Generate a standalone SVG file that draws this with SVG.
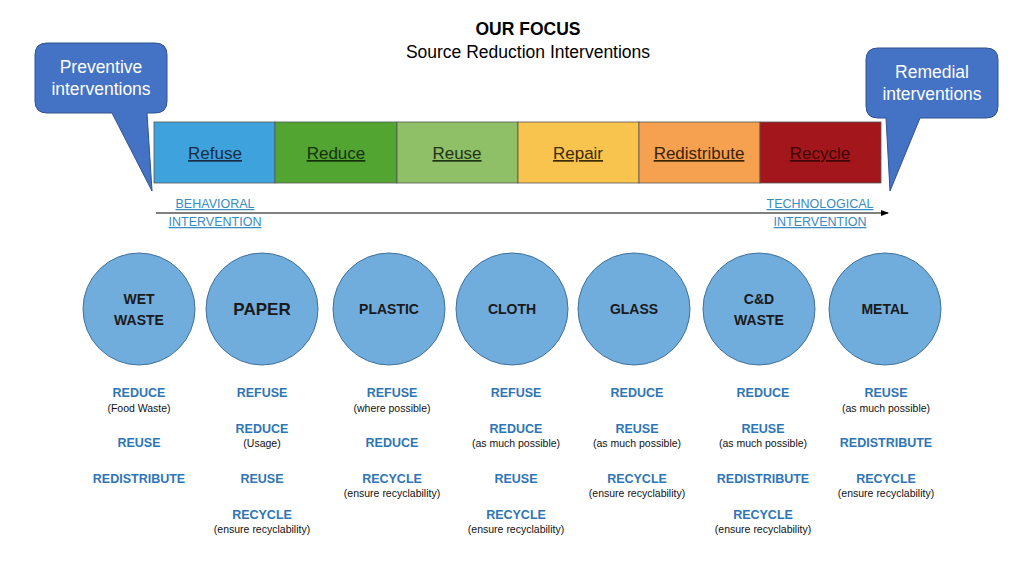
<svg xmlns="http://www.w3.org/2000/svg" width="1024" height="576" viewBox="0 0 1024 576">
<defs>
<style>
text{font-family:"Liberation Sans",Arial,sans-serif;text-anchor:middle}
.title{font-size:17.5px;fill:#000}
.callout{fill:#4472C4;stroke:#2F528F;stroke-width:1}
.ctext{font-size:17.5px;fill:#fff}
.seg{stroke:#555;stroke-width:0.8}
.stext{font-size:17px;text-decoration:underline}
.axis{font-size:12.5px;fill:#3A8AC0;text-decoration:underline}
.circ{fill:#70ACDC;stroke:#41719C;stroke-width:1}
.ntext{font-size:14px;font-weight:bold;fill:#1a1a1a}
.big{font-size:17px}
.act{font-size:12.5px;font-weight:bold;fill:#2E75B6}
.sub{font-size:10.5px;fill:#111}
</style>
<marker id="arr" markerWidth="8" markerHeight="8" refX="7" refY="4" orient="auto" markerUnits="userSpaceOnUse">
<path d="M0,1 L8,4 L0,7 Z" fill="#000"/>
</marker>
</defs>
<rect width="1024" height="576" fill="#fff"/>

<g id="title">
<text class="title" x="528" y="35" font-weight="bold">OUR FOCUS</text>
<text class="title" x="528" y="58">Source Reduction Interventions</text>
</g>

<g id="callout-preventive">
<path class="callout" d="M47,43 H155 Q167,43 167,55 V101 Q167,113 155,113 H147 L152,191 L112,113 H47 Q35,113 35,101 V55 Q35,43 47,43 Z"/>
<text class="ctext" x="101" y="73">Preventive</text>
<text class="ctext" x="101" y="95">interventions</text>
</g>

<g id="callout-remedial">
<path class="callout" d="M878,48 H986 Q998,48 998,60 V106 Q998,118 986,118 H920 L890,191 L886,118 H878 Q866,118 866,106 V60 Q866,48 878,48 Z"/>
<text class="ctext" x="932" y="78">Remedial</text>
<text class="ctext" x="932" y="100">interventions</text>
</g>

<g id="bar">
<rect class="seg" x="154" y="122" width="121" height="61" fill="#3EA3DC"/>
<rect class="seg" x="275" y="122" width="122" height="61" fill="#53A532"/>
<rect class="seg" x="397" y="122" width="121" height="61" fill="#8FBF67"/>
<rect class="seg" x="518" y="122" width="121" height="61" fill="#F9C44E"/>
<rect class="seg" x="639" y="122" width="121" height="61" fill="#F5A14F"/>
<rect class="seg" x="760" y="122" width="121" height="61" fill="#A3161B"/>
<text class="stext" x="215" y="159" fill="#1A2B44">Refuse</text>
<text class="stext" x="336" y="159" fill="#15300B">Reduce</text>
<text class="stext" x="457" y="159" fill="#1F3316">Reuse</text>
<text class="stext" x="578" y="159" fill="#3A2A05">Repair</text>
<text class="stext" x="699" y="159" fill="#3A2208">Redistribute</text>
<text class="stext" x="820" y="159" fill="#3E0506">Recycle</text>
</g>

<g id="connectors">
<line x1="156" y1="213" x2="888" y2="213" stroke="#000" stroke-width="1" marker-end="url(#arr)"/>
</g>

<g id="axis-labels">
<text class="axis" x="215" y="208">BEHAVIORAL</text>
<text class="axis" x="215" y="226">INTERVENTION</text>
<text class="axis" x="820" y="208">TECHNOLOGICAL</text>
<text class="axis" x="820" y="226">INTERVENTION</text>
</g>

<g id="node-wet">
<circle class="circ" cx="139" cy="309" r="56"/>
<text class="ntext" x="139" y="304">WET</text>
<text class="ntext" x="139" y="325">WASTE</text>
<text class="act" x="139" y="397">REDUCE</text>
<text class="sub" x="139" y="412">(Food Waste)</text>
<text class="act" x="139" y="447">REUSE</text>
<text class="act" x="139" y="483">REDISTRIBUTE</text>
</g>

<g id="node-paper">
<circle class="circ" cx="262" cy="309" r="56"/>
<text class="ntext big" x="262" y="315">PAPER</text>
<text class="act" x="262" y="397">REFUSE</text>
<text class="act" x="262" y="433">REDUCE</text>
<text class="sub" x="262" y="447">(Usage)</text>
<text class="act" x="262" y="483">REUSE</text>
<text class="act" x="262" y="519">RECYCLE</text>
<text class="sub" x="262" y="533">(ensure recyclability)</text>
</g>

<g id="node-plastic">
<circle class="circ" cx="389" cy="309" r="56"/>
<text class="ntext" x="389" y="314">PLASTIC</text>
<text class="act" x="392" y="397">REFUSE</text>
<text class="sub" x="392" y="412">(where possible)</text>
<text class="act" x="392" y="447">REDUCE</text>
<text class="act" x="392" y="483">RECYCLE</text>
<text class="sub" x="392" y="497">(ensure recyclability)</text>
</g>

<g id="node-cloth">
<circle class="circ" cx="512" cy="309" r="56"/>
<text class="ntext" x="512" y="314">CLOTH</text>
<text class="act" x="516" y="397">REFUSE</text>
<text class="act" x="516" y="433">REDUCE</text>
<text class="sub" x="516" y="447">(as much possible)</text>
<text class="act" x="516" y="483">REUSE</text>
<text class="act" x="516" y="519">RECYCLE</text>
<text class="sub" x="516" y="533">(ensure recyclability)</text>
</g>

<g id="node-glass">
<circle class="circ" cx="634" cy="309" r="56"/>
<text class="ntext" x="634" y="314">GLASS</text>
<text class="act" x="637" y="397">REDUCE</text>
<text class="act" x="637" y="433">REUSE</text>
<text class="sub" x="637" y="447">(as much possible)</text>
<text class="act" x="637" y="483">RECYCLE</text>
<text class="sub" x="637" y="497">(ensure recyclability)</text>
</g>

<g id="node-cd">
<circle class="circ" cx="759" cy="309" r="56"/>
<text class="ntext" x="759" y="304">C&amp;D</text>
<text class="ntext" x="759" y="325">WASTE</text>
<text class="act" x="763" y="397">REDUCE</text>
<text class="act" x="763" y="433">REUSE</text>
<text class="sub" x="763" y="447">(as much possible)</text>
<text class="act" x="763" y="483">REDISTRIBUTE</text>
<text class="act" x="763" y="519">RECYCLE</text>
<text class="sub" x="763" y="533">(ensure recyclability)</text>
</g>

<g id="node-metal">
<circle class="circ" cx="885" cy="309" r="56"/>
<text class="ntext" x="885" y="314">METAL</text>
<text class="act" x="886" y="397">REUSE</text>
<text class="sub" x="886" y="412">(as much possible)</text>
<text class="act" x="886" y="447">REDISTRIBUTE</text>
<text class="act" x="886" y="483">RECYCLE</text>
<text class="sub" x="886" y="497">(ensure recyclability)</text>
</g>
</svg>
